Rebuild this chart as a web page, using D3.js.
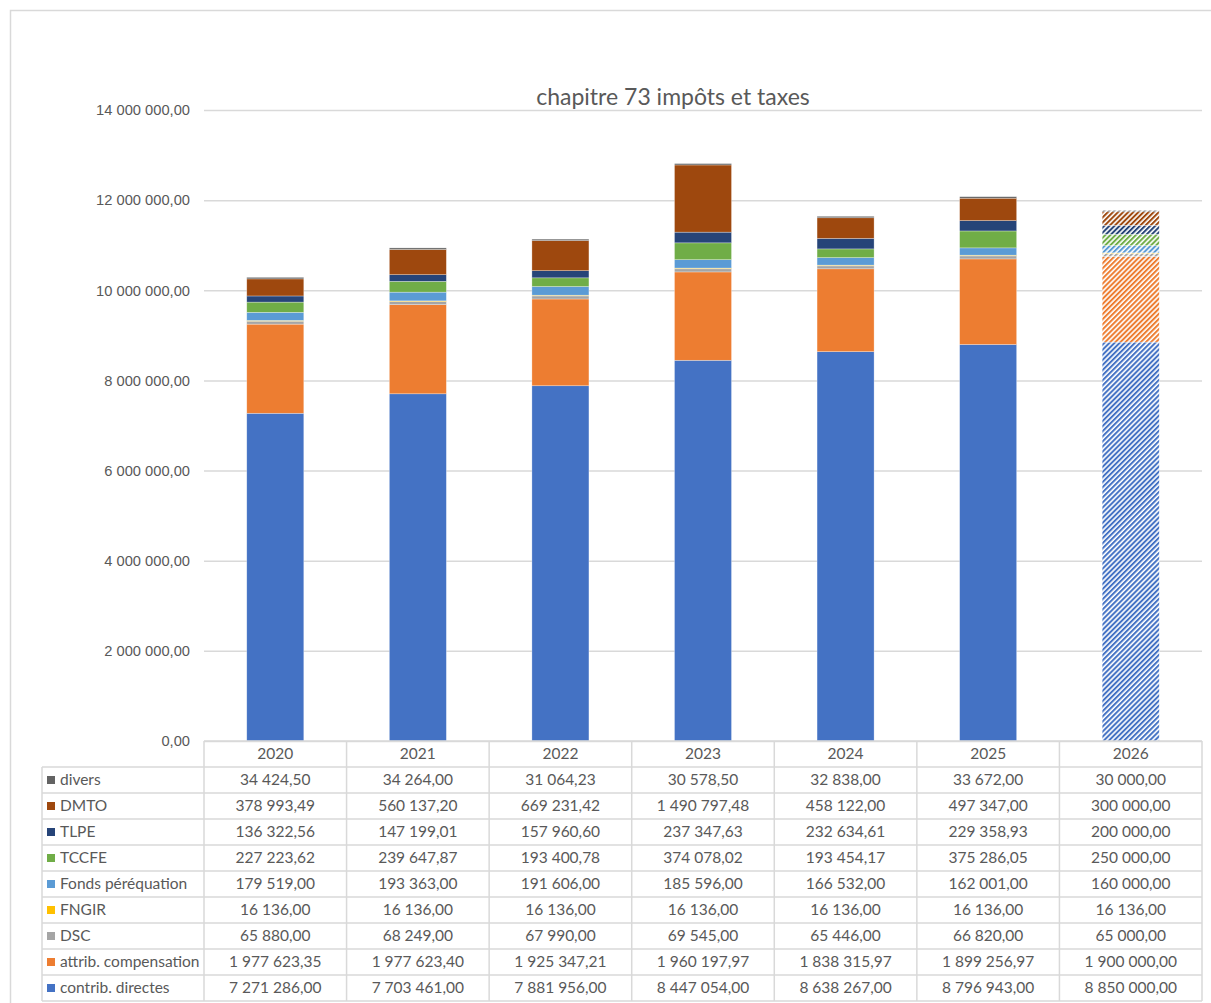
<!DOCTYPE html>
<html>
<head>
<meta charset="utf-8">
<script src="https://cdn.jsdelivr.net/npm/d3@7/dist/d3.min.js"></script>
<style>
  body { margin: 0; background: #fff; }
  svg { display: block; font-family: Lato, "Open Sans", sans-serif; }
</style>
</head>
<body>
<div id="chart"></div>
<script>
const years = ['2020', '2021', '2022', '2023', '2024', '2025', '2026'];
const seriesNames = ['contrib. directes', 'attrib. compensation', 'DSC', 'FNGIR',
    'Fonds péréquation', 'TCCFE', 'TLPE', 'DMTO', 'divers'];
const seriesColors = ['#4472C4', '#ED7D31', '#A5A5A5', '#FFC000',
    '#5B9BD5', '#70AD47', '#264478', '#9E480E', '#636363'];

const contribDirectes = [7271286.00, 7703461.00, 7881956.00, 8447054.00, 8638267.00, 8796943.00, 8850000.00];
const attribCompensation = [1977623.35, 1977623.40, 1925347.21, 1960197.97, 1838315.97, 1899256.97, 1900000.00];
const dsc = [65880.00, 68249.00, 67990.00, 69545.00, 65446.00, 66820.00, 65000.00];
const fngir = [16136.00, 16136.00, 16136.00, 16136.00, 16136.00, 16136.00, 16136.00];
const fondsPerequation = [179519.00, 193363.00, 191606.00, 185596.00, 166532.00, 162001.00, 160000.00];
const tccfe = [227223.62, 239647.87, 193400.78, 374078.02, 193454.17, 375286.05, 250000.00];
const tlpe = [136322.56, 147199.01, 157960.60, 237347.63, 232634.61, 229358.93, 200000.00];
const dmto = [378993.49, 560137.20, 669231.42, 1490797.48, 458122.00, 497347.00, 300000.00];
const divers = [34424.50, 34264.00, 31064.23, 30578.50, 32838.00, 33672.00, 30000.00];

const seriesValues = [contribDirectes, attribCompensation, dsc, fngir,
    fondsPerequation, tccfe, tlpe, dmto, divers];

const yTicks = [0, 2000000, 4000000, 6000000, 8000000, 10000000, 12000000, 14000000];
const forecastYear = '2026';

// Layout
const W = 1211, H = 1003;
const plot = { left: 204, right: 1202, top: 110, bottom: 741 };
const table = { left: 42, rowH: 26 };
const textColor = '#595959';
const gridColor = '#d9d9d9';
const tableFont = '15.5px';

const fr = d3.formatLocale({ decimal: ',', thousands: '\u00a0', grouping: [3], currency: ['', ' €'] });
const fmt = fr.format(',.2f');

const svg = d3.select('#chart').append('svg')
    .attr('width', W)
    .attr('height', H);

// Chart frame
svg.append('rect')
    .attr('x', 10.5).attr('y', 10.5)
    .attr('width', W + 20).attr('height', H + 20)
    .attr('fill', '#fff')
    .attr('stroke', gridColor)
    .attr('stroke-width', 1.5);

// Hatch patterns for the forecast year
const defs = svg.append('defs');
seriesColors.forEach((c, i) => {
    const p = defs.append('pattern')
        .attr('id', `hatch-${i}`)
        .attr('patternUnits', 'userSpaceOnUse')
        .attr('width', 3.6)
        .attr('height', 3.6)
        .attr('patternTransform', 'rotate(45)');
    p.append('rect').attr('width', 3.6).attr('height', 3.6).attr('fill', '#fff');
    p.append('rect').attr('width', 2).attr('height', 3.6).attr('fill', c);
});

// Scales
const x = d3.scaleBand()
    .domain(years)
    .range([plot.left, plot.right])
    .paddingInner(0.6)
    .paddingOuter(0.3);

const col = d3.scaleBand()
    .domain(years)
    .range([plot.left, plot.right]);

const y = d3.scaleLinear()
    .domain([0, 14000000])
    .range([plot.bottom, plot.top]);

// Gridlines
svg.append('g')
    .attr('class', 'grid')
    .attr('transform', `translate(${plot.left},0)`)
    .call(d3.axisLeft(y).tickValues(yTicks).tickSize(-(plot.right - plot.left)).tickFormat(''))
    .call(g => g.select('.domain').remove())
    .call(g => g.selectAll('line').attr('stroke', gridColor).attr('stroke-width', 1.5));

// Y axis labels
svg.append('g')
    .attr('class', 'y-axis')
    .attr('transform', `translate(${plot.left - 14},0)`)
    .call(d3.axisLeft(y).tickValues(yTicks).tickSize(0).tickPadding(0).tickFormat(fmt))
    .call(g => g.select('.domain').remove())
    .call(g => g.selectAll('text')
        .attr('fill', textColor)
        .style('font-size', '14.7px'));

// Stacked data
const rows = years.map((yr, j) => {
    const r = { year: yr };
    seriesNames.forEach((s, i) => { r[s] = seriesValues[i][j]; });
    return r;
});
const stacked = d3.stack().keys(seriesNames)(rows);

stacked.forEach((layer, i) => {
    svg.append('g')
        .selectAll('rect')
        .data(layer)
        .join('rect')
        .attr('x', d => x(d.data.year))
        .attr('width', x.bandwidth())
        .attr('y', d => y(d[1]))
        .attr('height', d => y(d[0]) - y(d[1]))
        .attr('fill', d => d.data.year === forecastYear ? `url(#hatch-${i})` : seriesColors[i])
        .attr('stroke', '#fff')
        .attr('stroke-opacity', 0.5)
        .attr('stroke-width', 0.6);
});

// Title
svg.append('text')
    .attr('x', 673)
    .attr('y', 105)
    .attr('text-anchor', 'middle')
    .attr('fill', textColor)
    .style('font-size', '23px')
    .text('chapitre 73 impôts et taxes');

// Data table
const tableRows = seriesNames.map((s, i) => i).reverse();
const tTop = plot.bottom;
const tg = svg.append('g').attr('class', 'data-table');
const lineStyle = sel => sel.attr('stroke', gridColor).attr('stroke-width', 1.5);

// header row
years.forEach(yr => {
    tg.append('text')
        .attr('x', col(yr) + col.bandwidth() / 2)
        .attr('y', tTop + table.rowH / 2)
        .attr('dy', '0.35em')
        .attr('text-anchor', 'middle')
        .attr('fill', textColor)
        .style('font-size', tableFont)
        .text(yr);
});

tableRows.forEach((si, r) => {
    const cy = tTop + table.rowH * (r + 1) + table.rowH / 2;
    tg.append('rect')
        .attr('x', table.left + 5)
        .attr('y', cy - 4)
        .attr('width', 8)
        .attr('height', 8)
        .attr('fill', seriesColors[si]);
    tg.append('text')
        .attr('x', table.left + 18)
        .attr('y', cy)
        .attr('dy', '0.35em')
        .attr('fill', textColor)
        .style('font-size', tableFont)
        .text(seriesNames[si]);
    years.forEach((yr, j) => {
        tg.append('text')
            .attr('x', col(yr) + col.bandwidth() / 2)
            .attr('y', cy)
            .attr('dy', '0.35em')
            .attr('text-anchor', 'middle')
            .attr('fill', textColor)
            .style('font-size', tableFont)
            .text(fmt(seriesValues[si][j]));
    });
});

// table grid lines
const nRows = seriesNames.length + 1;
for (let r = 0; r <= nRows; r++) {
    const yy = tTop + r * table.rowH;
    tg.append('line')
        .attr('x1', r === 0 ? plot.left : table.left)
        .attr('x2', plot.right)
        .attr('y1', yy).attr('y2', yy)
        .call(lineStyle);
}
tg.append('line')
    .attr('x1', table.left).attr('x2', table.left)
    .attr('y1', tTop + table.rowH).attr('y2', tTop + nRows * table.rowH)
    .call(lineStyle);
years.concat([null]).forEach(yr => {
    const xx = yr ? col(yr) : plot.right;
    tg.append('line')
        .attr('x1', xx).attr('x2', xx)
        .attr('y1', tTop).attr('y2', tTop + nRows * table.rowH)
        .call(lineStyle);
});
</script>
</body>
</html>
